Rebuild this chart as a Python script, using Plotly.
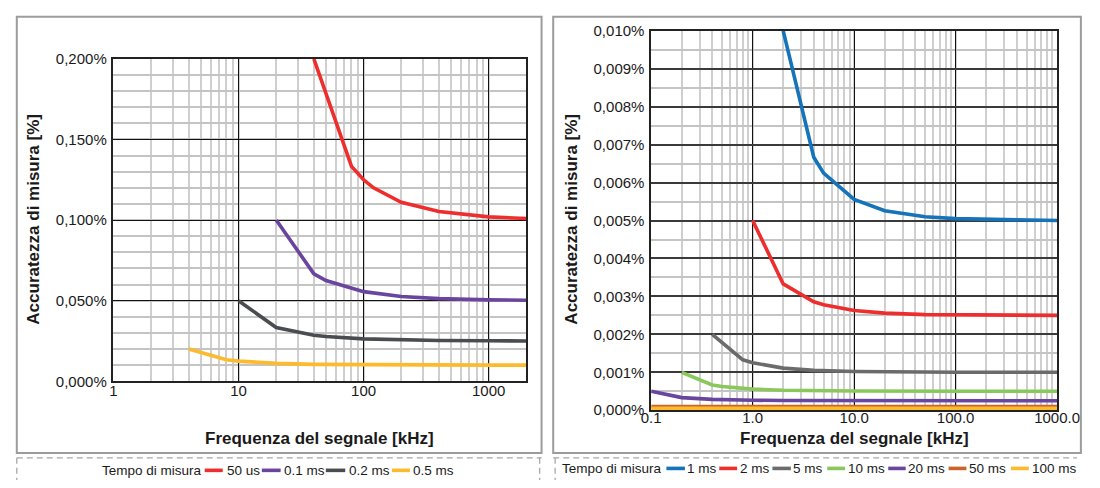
import plotly.graph_objects as go

W, H = 1100, 488

# ---------------- data (left panel) ----------------
left_names = ["50 us", "0.1 ms", "0.2 ms", "0.5 ms"]
left_colors = ["#EE2D2D", "#6A45A0", "#4A4D50", "#FDBA2C"]

freq_50us = [40, 80, 100, 120, 200, 400, 1000, 2000]
acc_50us = [0.200, 0.1333, 0.125, 0.120, 0.111, 0.1053, 0.102, 0.101]
freq_01ms = [20, 40, 50, 100, 200, 400, 1000, 2000]
acc_01ms = [0.100, 0.0667, 0.0625, 0.0556, 0.0526, 0.0513, 0.0505, 0.0503]
freq_02ms = [10, 20, 40, 50, 100, 200, 400, 1000, 2000]
acc_02ms = [0.050, 0.0333, 0.0286, 0.0278, 0.0263, 0.0256, 0.0253, 0.0251, 0.0250]
freq_05ms = [4, 8, 10, 20, 40, 100, 1000, 2000]
acc_05ms = [0.020, 0.0133, 0.0125, 0.0111, 0.0105, 0.0102, 0.0100, 0.0100]

left_x = [freq_50us, freq_01ms, freq_02ms, freq_05ms]
left_y = [acc_50us, acc_01ms, acc_02ms, acc_05ms]

left_xticks = [1, 10, 100, 1000]
left_xticktext = ["1", "10", "100", "1000"]
left_yticks = [0, 0.05, 0.10, 0.15, 0.20]
left_yticktext = ["0,000%", "0,050%", "0,100%", "0,150%", "0,200%"]

# ---------------- data (right panel) ----------------
right_names = ["1 ms", "2 ms", "5 ms", "10 ms", "20 ms", "50 ms", "100 ms"]
right_colors = ["#1473B9", "#EE2D2D", "#6B6B6B", "#8AC85C", "#6A45A0", "#C9652B", "#FDBA2C"]

freq_1ms = [2, 4, 5, 10, 20, 50, 100, 1000]
acc_1ms = [0.0100, 0.00667, 0.00625, 0.00556, 0.00526, 0.0051, 0.00505, 0.0050]
freq_2ms = [1, 2, 4, 5, 10, 20, 50, 100, 1000]
acc_2ms = [0.0050, 0.00333, 0.00286, 0.00278, 0.00263, 0.00256, 0.00252, 0.00251, 0.0025]
freq_5ms = [0.4, 0.8, 1, 2, 4, 10, 100, 1000]
acc_5ms = [0.0020, 0.00133, 0.00125, 0.00111, 0.00105, 0.00102, 0.0010, 0.0010]
freq_10ms = [0.2, 0.4, 0.5, 1, 2, 10, 100, 1000]
acc_10ms = [0.0010, 0.000667, 0.000625, 0.000556, 0.000526, 0.000505, 0.0005, 0.0005]
freq_20ms = [0.1, 0.2, 0.4, 0.5, 1, 2, 10, 1000]
acc_20ms = [0.0005, 0.000333, 0.000286, 0.000278, 0.000263, 0.000256, 0.000251, 0.00025]
freq_50ms = [0.1, 1, 10, 1000]
acc_50ms = [0.0001, 0.0001, 0.0001, 0.0001]
freq_100ms = [0.1, 1, 10, 1000]
acc_100ms = [0.00005, 0.00005, 0.00005, 0.00005]

right_x = [freq_1ms, freq_2ms, freq_5ms, freq_10ms, freq_20ms, freq_50ms, freq_100ms]
right_y = [acc_1ms, acc_2ms, acc_5ms, acc_10ms, acc_20ms, acc_50ms, acc_100ms]

right_xticks = [0.1, 1, 10, 100, 1000]
right_xticktext = ["0.1", "1.0", "10.0", "100.0", "1000.0"]
right_yticks = [i / 1000 for i in range(11)]
right_yticktext = ["0,%03d%%" % i for i in range(11)]

legend_title = "Tempo di misura"
x_title = "Frequenza del segnale [kHz]"
y_title = "Accuratezza di misura [%]"

FONT = "Liberation Sans, Arial, sans-serif"
TXT = "#1a1a1a"


def px(x):
    return x / W


def py(y):
    return 1 - y / H


fig = go.Figure()

for xs, ys, nm, col in zip(left_x, left_y, left_names, left_colors):
    fig.add_trace(go.Scatter(x=xs, y=ys, name=nm, mode="lines",
                             line=dict(color=col, width=3.6),
                             xaxis="x", yaxis="y", showlegend=False))
for xs, ys, nm, col in zip(right_x, right_y, right_names, right_colors):
    fig.add_trace(go.Scatter(x=xs, y=ys, name=nm, mode="lines",
                             line=dict(color=col, width=3.6),
                             xaxis="x2", yaxis="y2", showlegend=False))

# plot areas (pixels)
L = dict(x0=106.7, x1=532.3, y0=51.7, y1=385.7)
R = dict(x0=661.0, x1=1079.5, y0=22.7, y1=415.7)

common_axis = dict(showline=True, mirror=True, linecolor="#222222", linewidth=1.5,
                   zeroline=False, ticks="", tickfont=dict(family=FONT, size=15, color=TXT))

fig.update_layout(
    width=W, height=H,
    margin=dict(l=0, r=0, t=0, b=0),
    paper_bgcolor="white", plot_bgcolor="white",
    font=dict(family=FONT, color=TXT),
    xaxis=dict(common_axis, type="log", range=[0, 3.30103],
               domain=[px(L["x0"]), px(L["x1"])], anchor="y",
               tickvals=left_xticks, ticktext=left_xticktext,
               ticklabelstandoff=-5, ticklabeloverflow="allow",
               showgrid=True, gridcolor="#111111", gridwidth=1.2,
               minor=dict(dtick="D1", showgrid=True, gridcolor="#cfcfcf", gridwidth=1.6, ticks="")),
    yaxis=dict(common_axis, range=[0, 0.2],
               domain=[py(L["y1"]), py(L["y0"])], anchor="x",
               tickvals=left_yticks, ticktext=left_yticktext,
               ticklabelstandoff=2,
               showgrid=True, gridcolor="#111111", gridwidth=1.2,
               minor=dict(dtick=0.01, showgrid=True, gridcolor="#c4c4c4", gridwidth=1.6, ticks="")),
    xaxis2=dict(common_axis, type="log", range=[-1, 3],
                domain=[px(R["x0"]), px(R["x1"])], anchor="y2",
                tickvals=right_xticks, ticktext=right_xticktext,
                ticklabelstandoff=-7, ticklabeloverflow="allow",
                showgrid=True, gridcolor="#111111", gridwidth=1.2,
                minor=dict(dtick="D1", showgrid=True, gridcolor="#cfcfcf", gridwidth=1.6, ticks="")),
    yaxis2=dict(common_axis, range=[0, 0.01],
                domain=[py(R["y1"]), py(R["y0"])], anchor="x2",
                tickvals=right_yticks, ticktext=right_yticktext,
                ticklabelstandoff=2,
                showgrid=True, gridcolor="#3a3a3a", gridwidth=1.6,
                minor=dict(dtick=0.0005, showgrid=True, gridcolor="#c4c4c4", gridwidth=1.6, ticks="")),
)

shapes = []
annotations = []

# panel borders
BORDER = "#9c9c9c"
shapes.append(dict(type="rect", xref="paper", yref="paper",
                   x0=px(7), x1=px(548), y0=py(460), y1=py(8),
                   line=dict(color=BORDER, width=2)))
shapes.append(dict(type="rect", xref="paper", yref="paper",
                   x0=px(560), x1=px(1104), y0=py(460), y1=py(8),
                   line=dict(color=BORDER, width=2)))

# dashed legend boxes
DASH = "#a8a8a8"
for (a, b, sides) in [(7, 548, [7, 546]), (560, 1100, [562])]:
    shapes.append(dict(type="line", xref="paper", yref="paper",
                       x0=px(a), x1=px(b), y0=py(465), y1=py(465),
                       line=dict(color=DASH, width=1.3, dash="6px,4px")))
    for s in sides:
        shapes.append(dict(type="line", xref="paper", yref="paper",
                           x0=px(s), x1=px(s), y0=py(465), y1=py(488),
                           line=dict(color=DASH, width=1.3, dash="6px,4px")))

# axis titles
for P in (L, R):
    annotations.append(dict(xref="paper", yref="paper",
                            x=px((P["x0"] + P["x1"]) / 2), y=py(445),
                            text="<b>%s</b>" % x_title, showarrow=False,
                            xanchor="center", yanchor="middle",
                            font=dict(family=FONT, size=17, color=TXT)))
annotations.append(dict(xref="paper", yref="paper", x=px(24), y=py(218),
                        text="<b>%s</b>" % y_title, showarrow=False, textangle=-90,
                        xanchor="center", yanchor="middle",
                        font=dict(family=FONT, size=17, color=TXT)))
annotations.append(dict(xref="paper", yref="paper", x=px(578.6), y=py(218),
                        text="<b>%s</b>" % y_title, showarrow=False, textangle=-90,
                        xanchor="center", yanchor="middle",
                        font=dict(family=FONT, size=17, color=TXT)))

# legends (drawn manually for compact spacing)
LEG_FONT = dict(family=FONT, size=13.5, color=TXT)


def add_legend(title_x, ycen, entries):
    annotations.append(dict(xref="paper", yref="paper", x=px(title_x), y=py(ycen),
                            text=legend_title, showarrow=False, xanchor="left",
                            yanchor="middle", font=LEG_FONT, xshift=-2))
    for (lx0, lx1, tx, name, col) in entries:
        shapes.append(dict(type="line", xref="paper", yref="paper",
                           x0=px(lx0), x1=px(lx1), y0=py(ycen), y1=py(ycen),
                           line=dict(color=col, width=3.6)))
        annotations.append(dict(xref="paper", yref="paper", x=px(tx), y=py(ycen),
                                text=name, showarrow=False, xanchor="left",
                                yanchor="middle", font=LEG_FONT, xshift=-2))


left_pos = [(200.7, 219.3, 223.5), (259.6, 279.0, 282.5),
            (325.6, 345.6, 349.0), (393.7, 412.3, 415.0)]
add_legend(94.7, 478,
           [(a, b, c, n, col) for (a, b, c), n, col in zip(left_pos, left_names, left_colors)])

right_pos = [(676.7, 695.8, 698.2), (731.2, 749.6, 752.4), (786.0, 805.0, 807.7),
             (842.5, 860.9, 863.7), (905.4, 923.4, 926.2), (967.6, 986.0, 988.8),
             (1031.9, 1050.3, 1053.8)]
add_legend(568.9, 476,
           [(a, b, c, n, col) for (a, b, c), n, col in zip(right_pos, right_names, right_colors)])

fig.update_layout(shapes=shapes, annotations=annotations)

fig.write_html("out.html")
